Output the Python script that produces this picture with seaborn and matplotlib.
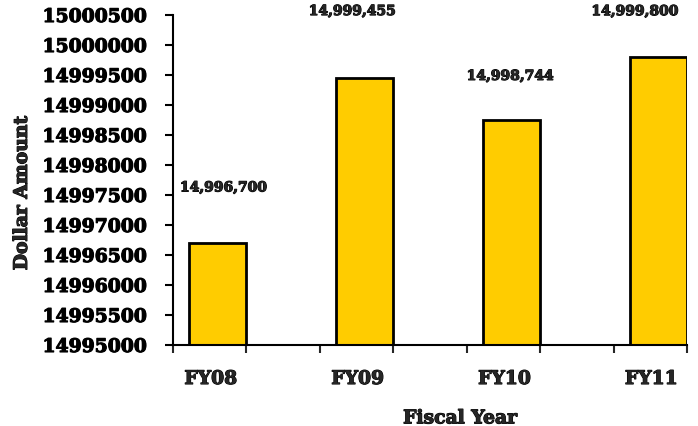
import matplotlib
matplotlib.use("Agg")
import matplotlib.pyplot as plt
import matplotlib.transforms as mtransforms
import matplotlib.patheffects as pe
import numpy as np
import pandas as pd
import seaborn as sns

# Chart data
years = ["FY08", "FY09", "FY10", "FY11"]
amounts = [14996700, 14999455, 14998744, 14999800]
value_labels = ["14,996,700", "14,999,455", "14,998,744", "14,999,800"]

y_ticks = list(range(14995000, 15000501, 500))

df = pd.DataFrame({"year": years, "amount": amounts})

sns.set_style("white")
plt.rcParams["font.family"] = ["DejaVu Serif"]
plt.rcParams["font.weight"] = "bold"

# heavier look, closer to the poster-style face in the original
heavy = [pe.withStroke(linewidth=0.8, foreground="black")]

fig = plt.figure(figsize=(6.98, 4.27), dpi=100)
ax = fig.add_axes([0.2479, 0.1897, 0.7364, 0.7728])

sns.barplot(data=df, x="year", y="amount", color="#FFCC00", edgecolor="black",
            linewidth=2, width=0.39, saturation=1, ax=ax)

ax.set_ylim(14995000, 15000500)
ax.set_xlim(-0.305, 3.195)
ax.set_yticks(y_ticks)
ax.ticklabel_format(axis="y", useOffset=False, style="plain")
ax.tick_params(axis="y", direction="out", length=6, width=1.5, pad=13,
               labelsize=13.5, left=True, colors="black")
for t in ax.get_yticklabels():
    t.set_fontweight("bold")
    t.set_path_effects(heavy)

# x axis: labels at bar centers, tick marks every half category
ax.set_xticks(range(len(years)))
ax.set_xticklabels(years, fontsize=13.5, fontweight="bold")
ax.tick_params(axis="x", which="major", length=0, pad=18)
ax.set_xticks(np.arange(-0.305, 3.2, 0.5), minor=True)
ax.tick_params(axis="x", which="minor", direction="out", length=6, width=1.5,
               bottom=True)
shift = mtransforms.ScaledTranslation(-7 / 100, 0, fig.dpi_scale_trans)
for t in ax.get_xticklabels():
    t.set_transform(t.get_transform() + shift)
    t.set_path_effects(heavy)

for side in ["top", "right"]:
    ax.spines[side].set_visible(False)
for side in ["left", "bottom"]:
    ax.spines[side].set_linewidth(1.5)
    ax.spines[side].set_color("black")

# value labels (placed like the original, not uniformly)
offsets = [(4, 40), (-9, 48), (-1, 32), (-17, 33)]
for i, (val, txt) in enumerate(zip(amounts, value_labels)):
    ax.annotate(txt, xy=(i, val), xytext=offsets[i], textcoords="offset points",
                ha="center", va="center", fontsize=10, fontweight="bold",
                annotation_clip=False, path_effects=heavy)

ax.set_xlabel("Fiscal Year", fontsize=13.5, fontweight="bold")
ax.xaxis.set_label_coords(0.558, -0.195)
ax.xaxis.label.set_path_effects(heavy)
ax.set_ylabel("Dollar Amount", fontsize=13.5, fontweight="bold", va="center")
ax.yaxis.set_label_coords(-0.294, 0.46)
ax.yaxis.label.set_path_effects(heavy)

fig.savefig("out.png", dpi=100)
